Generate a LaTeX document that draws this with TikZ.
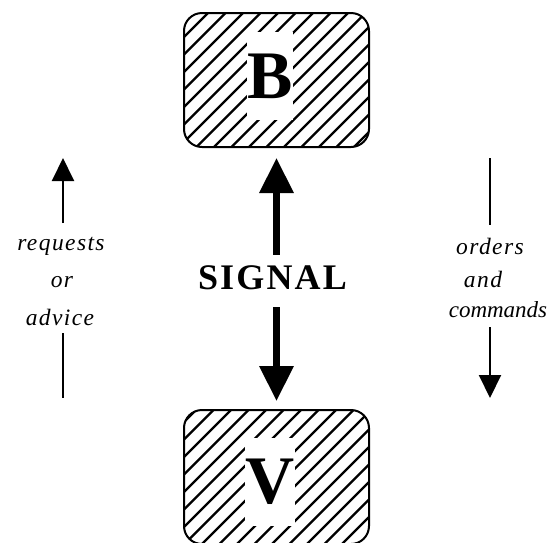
\documentclass[tikz,border=0pt]{standalone}
\usepackage{fontspec}
\setmainfont{Liberation Serif}
\newfontfamily\notefont[LetterSpace=6]{Liberation Serif Italic}
\newfontfamily\notetight{Liberation Serif Italic}
\newfontfamily\sigfont[LetterSpace=6]{Liberation Serif Bold}
\usetikzlibrary{arrows.meta}

\begin{document}
\begin{tikzpicture}[x=1pt,y=-1pt,
  box/.style={draw, line width=2pt, rounded corners=18pt, inner sep=0pt,
    minimum width=185pt, minimum height=134pt},
  hatch/.style={line width=2.2pt},
  letter/.style={fill=white, inner sep=0pt, minimum width=46pt, minimum height=88pt,
    font=\fontsize{68}{68}\selectfont\bfseries},
  sig/.style={inner xsep=0pt, inner ysep=11pt, font=\fontsize{36}{36}\sigfont},
  note/.style={inner sep=0pt, anchor=base, font=\fontsize{23.5}{23.5}\notefont},
  bigarrow/.style={line width=6.5pt, -{Triangle[width=33pt,length=35pt]}},
  smallarrow/.style={line width=2pt, -{Triangle[width=22pt,length=23pt]}},
  thinline/.style={line width=2pt}]

\useasboundingbox (0,0) rectangle (552,542);

% diagonal hatching inside the two boxes
\begin{scope}
  \clip[rounded corners=18pt] (184,13) rectangle (369,147);
  \foreach \k in {-2,...,18}{
    \pgfmathsetmacro\c{221+17.5*\k}
    \draw[hatch] ({\c+7},-7) -- ({\c-167},167);
  }
\end{scope}
\begin{scope}
  \clip[rounded corners=18pt] (184,410) rectangle (369,544);
  \foreach \k in {20,...,41}{
    \pgfmathsetmacro\c{221+17.5*\k}
    \draw[hatch] ({\c-390},390) -- ({\c-560},560);
  }
\end{scope}

% letters on white patches
\node[letter] (Bl) at (270,76) {B};
\node[letter] (Vl) at (270,482) {V};

% box outlines
\node[box] (B) at (276.5,80) {};
\node[box] (V) at (276.5,477) {};

% central signal
\node[sig] (sig) at (272.5,278) {SIGNAL};
\draw[bigarrow, shorten >=10pt] (sig.north -| B.south) -- (B.south);
\draw[bigarrow, shorten <=6pt, shorten >=8pt] (sig.south -| V.north) -- (V.north);

% left side: requests or advice
\node[note] (req) at (61,250) {requests};
\node[note] (or)  at (62,287) {or};
\node[note] (adv) at (60,325) {advice};
\coordinate (lbot) at (63,223);
\coordinate (ltip) at (63,158);
\coordinate (ltop2) at (63,333);
\coordinate (lend) at (63,398);
\draw[smallarrow] (lbot) -- (ltip);
\draw[thinline] (ltop2) -- (lend);

% right side: orders and commands
\node[note] (ord) at (490,254) {orders};
\node[note] (and) at (483,287) {and};
\node[note, font=\fontsize{23}{23}\notetight] (cmd) at (498,317) {commands};
\coordinate (rtop) at (490,158);
\coordinate (rbot) at (490,225);
\coordinate (rstart) at (490,327);
\coordinate (rtip) at (490,398);
\draw[thinline] (rtop) -- (rbot);
\draw[smallarrow] (rstart) -- (rtip);

\end{tikzpicture}
\end{document}
